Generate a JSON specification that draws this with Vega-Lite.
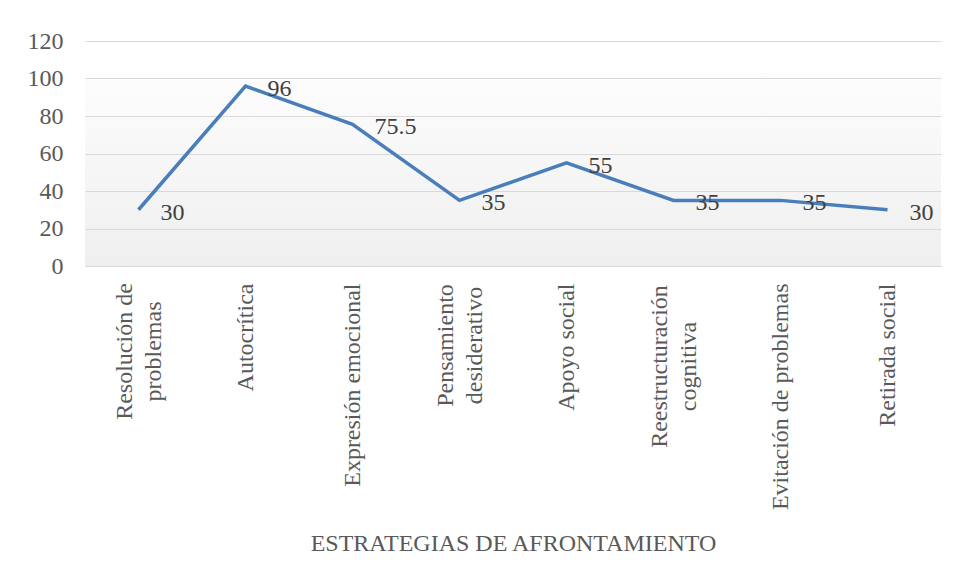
{
  "$schema": "https://vega.github.io/schema/vega-lite/v6.json",
  "autosize": "none",
  "width": 856,
  "height": 225,
  "padding": {"left": 85, "top": 41, "right": 17, "bottom": 313},
  "background": "white",
  "config": {
    "view": {
      "stroke": null,
      "fill": {
        "gradient": "linear",
        "x1": 0, "y1": 0, "x2": 0, "y2": 1,
        "stops": [
          {"offset": 0, "color": "#ffffff"},
          {"offset": 0.135, "color": "#ffffff"},
          {"offset": 0.14, "color": "#fdfdfd"},
          {"offset": 1, "color": "#efefef"}
        ]
      }
    },
    "font": "Liberation Serif",
    "mark": {"font": "Liberation Serif"},
    "text": {"font": "Liberation Serif"}
  },
  "data": {
    "values": [
      {"estrategia": "Resolución de problemas", "valor": 30},
      {"estrategia": "Autocrítica", "valor": 96},
      {"estrategia": "Expresión emocional", "valor": 75.5},
      {"estrategia": "Pensamiento desiderativo", "valor": 35},
      {"estrategia": "Apoyo social", "valor": 55},
      {"estrategia": "Reestructuración cognitiva", "valor": 35},
      {"estrategia": "Evitación de problemas", "valor": 35},
      {"estrategia": "Retirada social", "valor": 30}
    ]
  },
  "encoding": {
    "x": {
      "field": "estrategia",
      "type": "nominal",
      "sort": null,
      "scale": {"type": "point", "padding": 0.5},
      "axis": {
        "title": "ESTRATEGIAS DE AFRONTAMIENTO",
        "titleFont": "Liberation Serif",
        "titleFontSize": 24,
        "titleFontWeight": "normal",
        "titleColor": "#595959",
        "titleBaseline": "middle",
        "titleY": 277,
        "labelAngle": -90,
        "labelAlign": {
          "condition": {"test": "indexof(['Resolución de problemas','Pensamiento desiderativo','Reestructuración cognitiva'], datum.value) >= 0", "value": "center"},
          "value": "right"
        },
        "labelBaseline": "middle",
        "labelFont": "Liberation Serif",
        "labelFontSize": 24,
        "labelColor": "#595959",
        "labelPadding": {
          "condition": [
            {"test": "datum.value == 'Resolución de problemas'", "value": 85},
            {"test": "datum.value == 'Pensamiento desiderativo'", "value": 79},
            {"test": "datum.value == 'Reestructuración cognitiva'", "value": 100}
          ],
          "value": 17
        },
        "labelOffset": {
          "condition": {"test": "indexof(['Resolución de problemas','Pensamiento desiderativo','Reestructuración cognitiva'], datum.value) >= 0", "value": -14},
          "value": 0
        },
        "labelLineHeight": 29,
        "labelLimit": 0,
        "labelExpr": "datum.value == 'Resolución de problemas' ? ['Resolución de', 'problemas'] : datum.value == 'Pensamiento desiderativo' ? ['Pensamiento', 'desiderativo'] : datum.value == 'Reestructuración cognitiva' ? ['Reestructuración', 'cognitiva'] : datum.value",
        "ticks": false,
        "domain": true,
        "domainColor": "#d9d9d9",
        "grid": false
      }
    },
    "y": {
      "field": "valor",
      "type": "quantitative",
      "scale": {"domain": [0, 120]},
      "axis": {
        "title": null,
        "values": [0, 20, 40, 60, 80, 100, 120],
        "labelFont": "Liberation Serif",
        "labelFontSize": 24,
        "labelColor": "#595959",
        "labelPadding": 22,
        "ticks": false,
        "domain": false,
        "grid": true,
        "gridColor": "#d9d9d9",
        "gridWidth": 1
      }
    }
  },
  "layer": [
    {
      "mark": {"type": "line", "color": "#4a7ebb", "strokeWidth": 3.5, "strokeJoin": "miter"}
    },
    {
      "mark": {
        "type": "text",
        "align": "left",
        "baseline": "middle",
        "dx": 22,
        "dy": 3,
        "font": "Liberation Serif",
        "fontSize": 24,
        "color": "#404040"
      },
      "encoding": {"text": {"field": "valor", "type": "quantitative"}}
    }
  ]
}
